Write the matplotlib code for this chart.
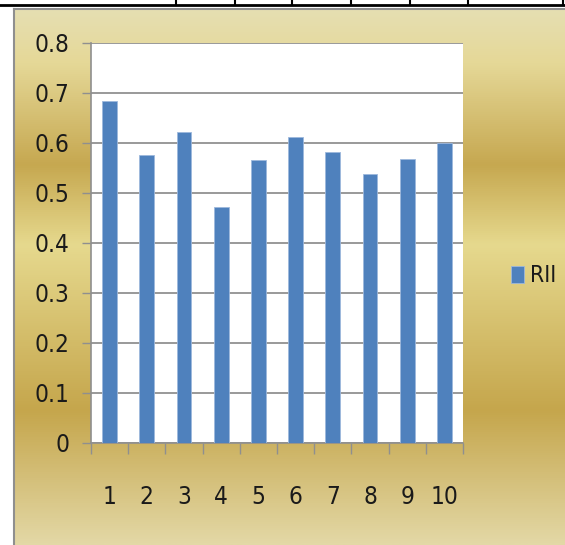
import numpy as np
import matplotlib
matplotlib.use("Agg")
import matplotlib.pyplot as plt
from matplotlib import font_manager
from matplotlib.colors import LinearSegmentedColormap
from matplotlib.lines import Line2D

categories = ["1", "2", "3", "4", "5", "6", "7", "8", "9", "10"]
rii = [0.685, 0.576, 0.623, 0.473, 0.567, 0.613, 0.583, 0.538, 0.569, 0.601]
yticks = [0, 0.1, 0.2, 0.3, 0.4, 0.5, 0.6, 0.7, 0.8]
series_name = "RII"

W, H = 565, 545
fig = plt.figure(figsize=(W / 100, H / 100), dpi=100)
fig.patch.set_facecolor("white")

names = {(f.name, f.stretch) for f in font_manager.fontManager.ttflist}
if any(n == "Liberation Sans Narrow" for n, s in names):
    FONT, STRETCH = ["Liberation Sans Narrow", "DejaVu Sans"], "normal"
elif ("DejaVu Sans", "condensed") in names:
    FONT, STRETCH = ["DejaVu Sans"], "condensed"
else:
    FONT, STRETCH = ["DejaVu Sans"], "normal"
FSIZE = 17.5

# gold gradient background (frame area)
fx0, fy0 = 14, 9
bg = fig.add_axes([fx0 / W, 0, 1 - fx0 / W, (H - fy0) / H], zorder=-10)
stops = [(0.0, "#e6dfb2"), (0.10, "#e5d897"), (0.29, "#c6a850"),
         (0.44, "#e6d98e"), (0.75, "#c5a64c"), (1.0, "#e3d8a6")]
cmap = LinearSegmentedColormap.from_list("gold", stops)
grad = np.linspace(0, 1, 512).reshape(-1, 1)
bg.imshow(grad, aspect="auto", cmap=cmap, extent=[0, 1, 0, 1], origin="upper")
bg.set_axis_off()

# frame border lines and top table line
fig.add_artist(Line2D([fx0 / W, fx0 / W], [0, 1 - fy0 / H], color="#8f8f8f", lw=1.5))
fig.add_artist(Line2D([fx0 / W, 1], [1 - fy0 / H, 1 - fy0 / H], color="#8f8f8f", lw=1.5))
fig.add_artist(Line2D([0, 1], [1 - 4.5 / H, 1 - 4.5 / H], color="black", lw=2))
for xp in [176, 235, 292, 351, 410, 468, 563]:
    fig.add_artist(Line2D([xp / W, xp / W], [1 - 4.5 / H, 1], color="black", lw=1.5))

# plot area
ax = fig.add_axes([91 / W, (H - 443) / H, (463 - 91) / W, (443 - 43) / H])
ax.set_facecolor("white")
x = np.arange(1, len(categories) + 1)
ax.bar(x, rii, width=0.4, color="#4f81bd", edgecolor="#9db8dc", linewidth=0.6,
       label=series_name, zorder=3)
ax.set_xlim(0.5, len(categories) + 0.5)
ax.set_ylim(0, 0.8)
ax.set_yticks(yticks)
ax.set_yticklabels([f"{v:g}" for v in yticks], fontfamily=FONT, fontsize=FSIZE,
                   fontstretch=STRETCH, color="#1a1a1a")
ax.grid(axis="y", color="#878787", lw=1.2, zorder=1)
ax.set_axisbelow(True)

ax.set_xticks(np.arange(0.5, len(categories) + 1, 1))
ax.set_xticklabels([])
ax.set_xticks(x, minor=True)
ax.set_xticklabels(categories, minor=True, fontfamily=FONT, fontsize=FSIZE,
                   fontstretch=STRETCH, color="#1a1a1a")
ax.tick_params(axis="x", which="major", direction="out", length=8, width=1, color="#8f8f8f")
ax.tick_params(axis="x", which="minor", length=0, pad=30)
ax.tick_params(axis="y", direction="out", length=6.5, width=1, color="#8f8f8f", pad=9)

for s in ["top", "right"]:
    ax.spines[s].set_visible(False)
for s in ["left", "bottom"]:
    ax.spines[s].set_color("#8f8f8f")
    ax.spines[s].set_linewidth(1.2)

leg = ax.legend(loc="center left", bbox_to_anchor=(500 / W, (H - 276) / H),
                bbox_transform=fig.transFigure, frameon=False,
                prop={"family": FONT, "size": FSIZE - 1, "stretch": STRETCH},
                handlelength=0.55, handleheight=0.8, handletextpad=0.25, borderpad=0)
for t in leg.get_texts():
    t.set_color("#1a1a1a")

fig.savefig("out.png", dpi=100)
